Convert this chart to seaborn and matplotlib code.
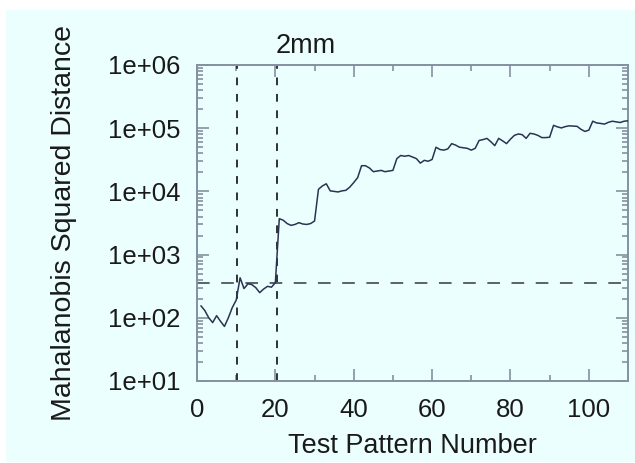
import numpy as np
import pandas as pd
import matplotlib
matplotlib.use("Agg")
import matplotlib.pyplot as plt
import matplotlib.ticker as mticker
import matplotlib.transforms as mtransforms
from matplotlib.patches import Rectangle
import seaborn as sns

# ------------------------------
# Data
# ------------------------------
pattern_number = list(range(1, 111))
distance = [
    155, 130, 100, 84, 108, 88, 73, 100, 145, 190,
    430, 290, 345, 335, 300, 250, 285, 315, 305, 360,
    3700, 3500, 3100, 2900, 3000, 3200, 3050, 3000, 3100, 3400,
    10800, 12200, 13200, 10200, 10000, 9800, 10200, 10400, 11700, 13800,
    16500, 25500, 25500, 23500, 20500, 21000, 21500, 20500, 21000, 21500,
    33000, 37000, 36000, 37000, 35000, 33000, 28000, 31000, 30000, 32000,
    50000, 46000, 45000, 47000, 57000, 54000, 50000, 49000, 48000, 45000,
    48000, 64000, 66000, 69000, 61000, 53000, 69000, 63000, 57000, 67000,
    77000, 81000, 79000, 69000, 83000, 81000, 77000, 71000, 71000, 72000,
    111000, 105000, 101000, 106000, 109000, 108000, 107000, 96000, 89000, 93000,
    129000, 121000, 119000, 116000, 124000, 129000, 126000, 123000, 129000, 131000,
]
pattern_marks = [10.3, 20.4]
threshold = 355
marker_label = "2mm"
y_decades = [1e1, 1e2, 1e3, 1e4, 1e5, 1e6]

df = pd.DataFrame({"pattern": pattern_number, "distance": distance})

# ------------------------------
# Style
# ------------------------------
sns.set_theme(style="ticks")
plt.rcParams["font.family"] = ["Liberation Sans", "DejaVu Sans"]

bg = "#ecffff"
spine_col = "#8591a0"
line_col = "#2b3350"
text_col = "#1a1a1a"

fig = plt.figure(figsize=(6.35, 4.63), dpi=100)
fig.patch.set_facecolor("white")
fig.patches.append(Rectangle((6 / 635, 1 / 463), 1 - 6 / 635, 452 / 463,
                             transform=fig.transFigure, facecolor=bg,
                             edgecolor="none", zorder=-10))

ax = fig.add_axes([197 / 635, 82 / 463, 431 / 635, 316 / 463])
ax.set_facecolor(bg)

sns.lineplot(data=df, x="pattern", y="distance", ax=ax, color=line_col,
             linewidth=1.1, zorder=3)

ax.set_yscale("log")
ax.set_xlim(0, 110)
ax.set_ylim(1e1, 1e6)

# dashed markers
for xm in pattern_marks:
    ax.axvline(xm, color="#222222", linewidth=1.3, dashes=(4.3, 4.8), zorder=2)
ax.axhline(threshold, color="#50555c", linewidth=1.3, dashes=(7.0, 6.4), zorder=2)

# ticks
ax.yaxis.set_major_locator(mticker.FixedLocator(y_decades))
ax.yaxis.set_major_formatter(mticker.FuncFormatter(lambda v, p: f"1e+{int(round(np.log10(v))):02d}"))
ax.yaxis.set_minor_locator(mticker.LogLocator(base=10, subs=np.arange(2, 10)))
ax.yaxis.set_minor_formatter(mticker.NullFormatter())
ax.xaxis.set_major_locator(mticker.MultipleLocator(20))
ax.xaxis.set_minor_locator(mticker.MultipleLocator(10))

ax.tick_params(which="both", direction="in", top=True, right=True,
               color=spine_col, width=1.2, labelsize=18.5, labelcolor=text_col)
ax.tick_params(which="major", length=8.5, pad=12)
ax.tick_params(which="minor", length=4.5)

for sp in ax.spines.values():
    sp.set_color(spine_col)
    sp.set_linewidth(1.4)

ax.set_xlabel("Test Pattern Number", fontsize=19.5, color=text_col, labelpad=8)
ax.set_ylabel("Mahalanobis Squared Distance", fontsize=20.5, color=text_col, labelpad=22)

# label above the second marker line
trans = mtransforms.blended_transform_factory(ax.transData, ax.transAxes)
ax.text(pattern_marks[1] - 0.3, 1.02, marker_label, transform=trans, ha="left",
        va="bottom", fontsize=19.5, color=text_col)

fig.savefig("out.png", dpi=100, facecolor=fig.get_facecolor())
